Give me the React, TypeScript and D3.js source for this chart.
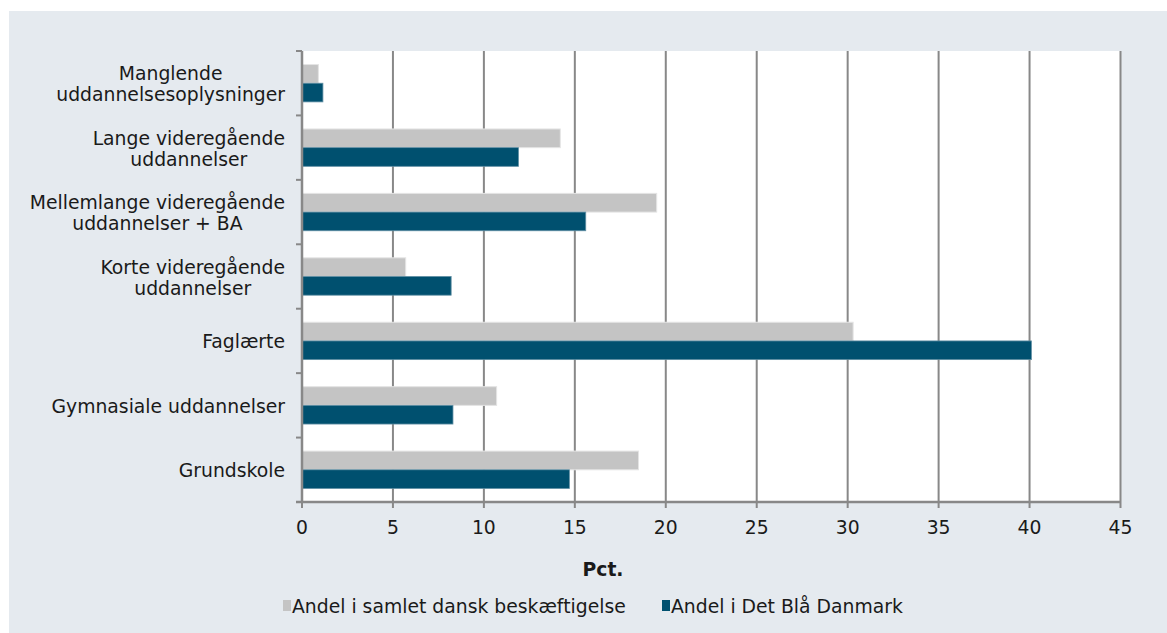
import React, { useEffect, useRef } from "react";
import * as d3 from "d3";

const categories: string[][] = [
  ["Manglende", "uddannelsesoplysninger"],
  ["Lange videregående", "uddannelser"],
  ["Mellemlange videregående", "uddannelser + BA"],
  ["Korte videregående", "uddannelser"],
  ["Faglærte"],
  ["Gymnasiale uddannelser"],
  ["Grundskole"],
];
const samletValues = [0.9, 14.2, 19.5, 5.7, 30.3, 10.7, 18.5];
const blaaValues = [1.15, 11.9, 15.6, 8.2, 40.1, 8.3, 14.7];
const seriesNames = ["Andel i samlet dansk beskæftigelse", "Andel i Det Blå Danmark"];
const xTicks = [0, 5, 10, 15, 20, 25, 30, 35, 40, 45];
const xTitle = "Pct.";

const W = 1167;
const H = 633;
const FONT = "'DejaVu Sans', Verdana, sans-serif";
const FS = 18.8;
const GRAY = "#c4c4c4";
const BLUE = "#00506f";
const GRID = "#888888";
const TEXT = "#1a1a1a";

export default function App() {
  const ref = useRef<SVGSVGElement>(null);
  useEffect(() => {
    const svg = d3.select(ref.current);
    svg.selectAll("*").remove();

    const left = 302, right = 1120.5, top = 51, bottom = 502;
    svg.append("rect").attr("x", 9).attr("y", 11).attr("width", W - 9).attr("height", H - 11).attr("fill", "#e5eaef");
    svg.append("rect").attr("x", left).attr("y", top).attr("width", right - left).attr("height", bottom - top).attr("fill", "#ffffff");

    const x = d3.scaleLinear().domain([0, 45]).range([left, right]);
    const idx = categories.map((_, i) => String(i));
    const y = d3.scaleBand().domain(idx).range([top, bottom]).paddingInner(0.42).paddingOuter(0.21);
    const sub = d3.scaleBand().domain(["0", "1"]).range([0, y.bandwidth()]);

    // gridlines
    svg.append("g").selectAll("line").data(xTicks.filter((t) => t > 0)).join("line")
      .attr("x1", (d) => x(d)).attr("x2", (d) => x(d)).attr("y1", top).attr("y2", bottom)
      .attr("stroke", GRID).attr("stroke-width", 2);

    // bars
    const groups = svg.append("g").selectAll("g").data(categories.map((_, i) => i)).join("g")
      .attr("transform", (i) => `translate(0,${y(String(i))})`);
    groups.append("rect").attr("x", x(0)).attr("y", sub("0")!)
      .attr("width", (i) => x(samletValues[i]) - x(0)).attr("height", sub.bandwidth())
      .attr("fill", GRAY).attr("stroke", "#e4e4e4").attr("stroke-width", 1);
    groups.append("rect").attr("x", x(0)).attr("y", sub("1")!)
      .attr("width", (i) => x(blaaValues[i]) - x(0)).attr("height", sub.bandwidth())
      .attr("fill", BLUE).attr("stroke", "#5f8ea3").attr("stroke-width", 0.8);

    // y axis line and ticks
    svg.append("line").attr("x1", left).attr("x2", left).attr("y1", top).attr("y2", bottom)
      .attr("stroke", GRID).attr("stroke-width", 2.5);
    const step = (bottom - top) / categories.length;
    const yb = d3.range(categories.length + 1).map((i) => top + i * step);
    svg.append("g").selectAll("line").data(yb).join("line")
      .attr("x1", left - 6).attr("x2", left).attr("y1", (d) => d).attr("y2", (d) => d)
      .attr("stroke", GRID).attr("stroke-width", 2);

    // x axis
    svg.append("line").attr("x1", left - 6).attr("x2", right).attr("y1", bottom).attr("y2", bottom)
      .attr("stroke", GRID).attr("stroke-width", 2.5);
    svg.append("g").selectAll("line").data(xTicks).join("line")
      .attr("x1", (d) => x(d)).attr("x2", (d) => x(d)).attr("y1", bottom).attr("y2", bottom + 6)
      .attr("stroke", GRID).attr("stroke-width", 2);
    svg.append("g").selectAll("text").data(xTicks).join("text")
      .attr("x", (d) => x(d)).attr("y", 534).attr("text-anchor", "middle")
      .attr("font-family", FONT).attr("font-size", FS).attr("fill", TEXT).text((d) => String(d));

    svg.append("text").attr("x", 603).attr("y", 576).attr("text-anchor", "middle")
      .attr("font-family", FONT).attr("font-size", FS).attr("font-weight", "bold").attr("fill", TEXT).text(xTitle);

    // category labels
    const labelRight = 285;
    categories.forEach((lines, i) => {
      const cy = top + (i + 0.5) * step;
      const g = svg.append("g");
      const lh = 21;
      const texts = lines.map((ln, j) =>
        g.append("text").attr("y", cy + (j - (lines.length - 1) / 2) * lh + 7.5)
          .attr("text-anchor", "middle").attr("font-family", FONT).attr("font-size", FS)
          .attr("fill", TEXT).text(ln)
      );
      const maxW = d3.max(texts, (t) => (t.node() as SVGTextElement).getComputedTextLength()) || 0;
      texts.forEach((t) => t.attr("x", labelRight - maxW / 2));
    });

    // legend
    const legY = 606;
    const items = [
      { name: seriesNames[0], color: GRAY, x: 283 },
      { name: seriesNames[1], color: BLUE, x: 662 },
    ];
    items.forEach((it) => {
      svg.append("rect").attr("x", it.x).attr("y", legY - 6).attr("width", 8).attr("height", 11).attr("fill", it.color);
      svg.append("text").attr("x", it.x + 9).attr("y", legY + 7).attr("font-family", FONT).attr("font-size", FS)
        .attr("fill", TEXT).text(it.name);
    });
  }, []);
  return <svg ref={ref} width={W} height={H} style={{ display: "block", position: "absolute", left: 0, top: 0 }} />;
}
